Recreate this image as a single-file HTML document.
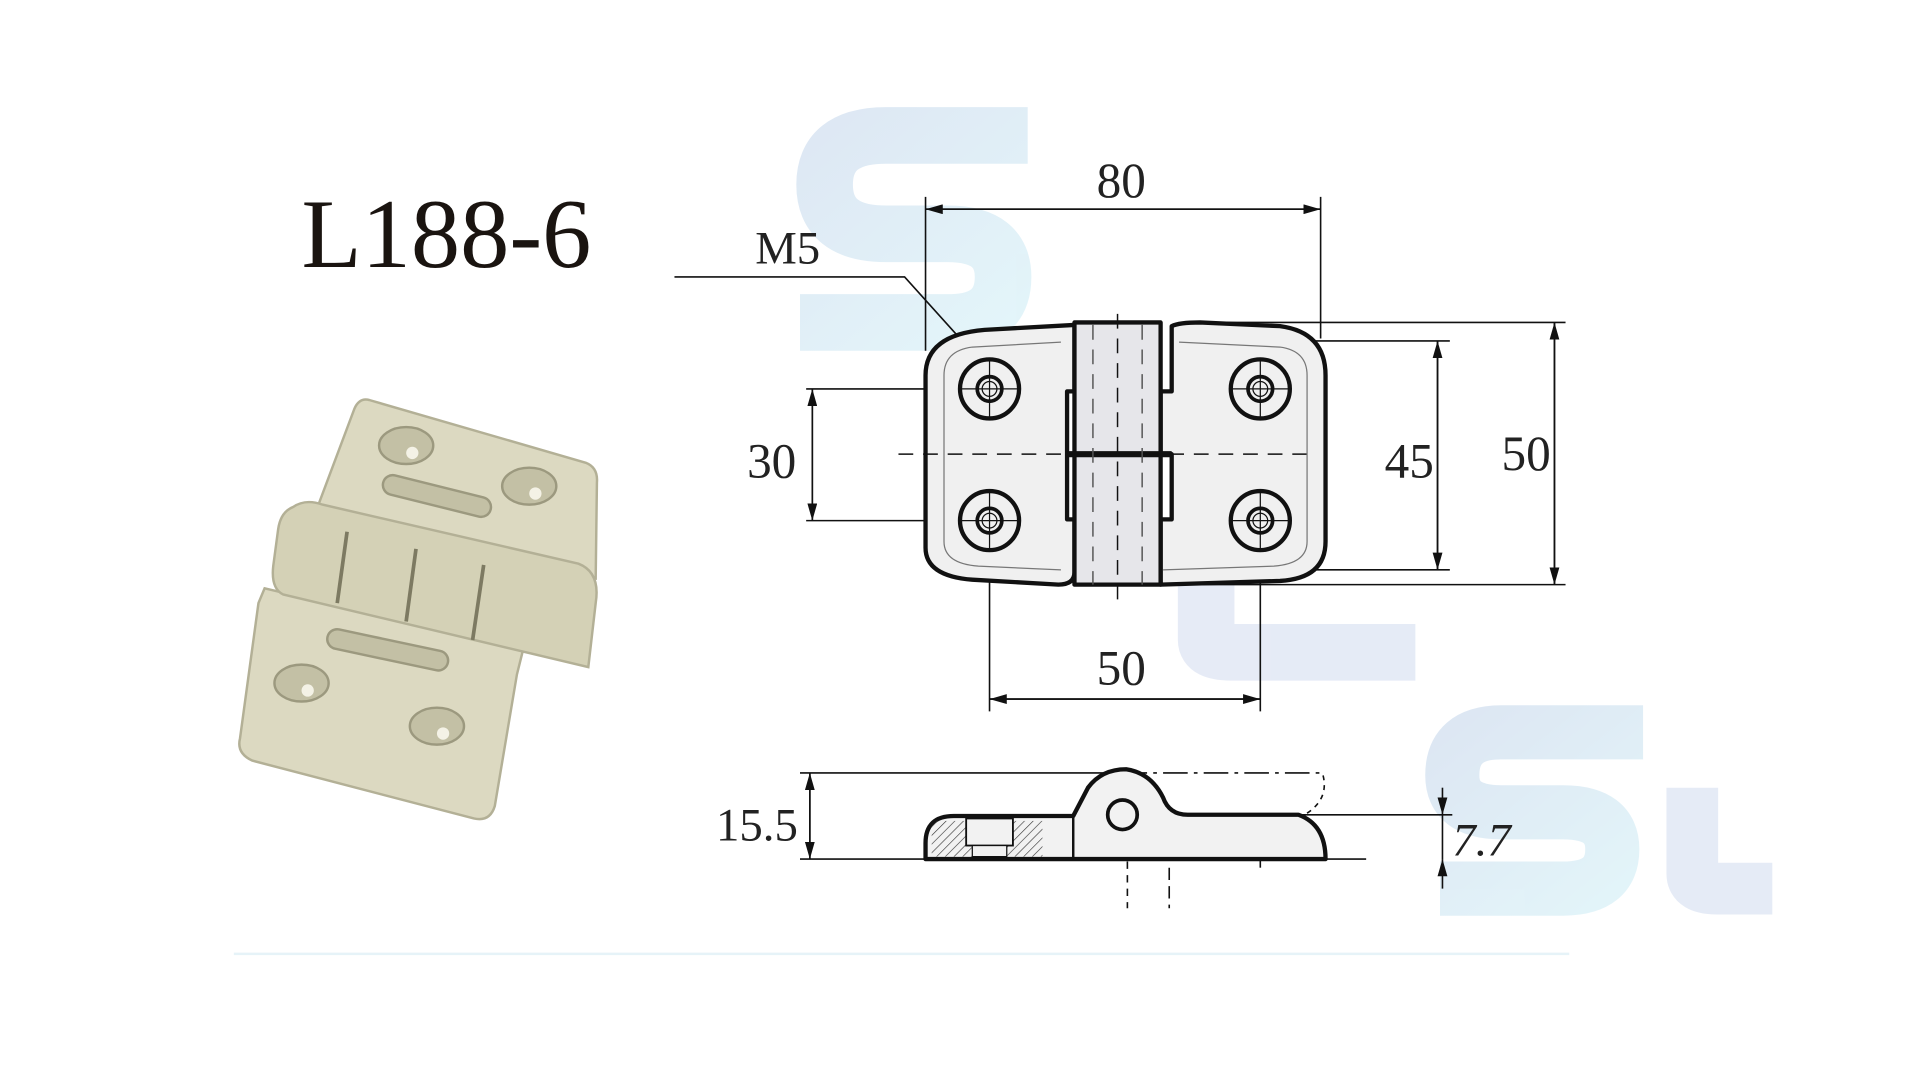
<!DOCTYPE html>
<html><head><meta charset="utf-8"><style>
html,body{margin:0;padding:0;background:#fff;}
svg{display:block}
</style></head><body>
<svg width="1920" height="1080" viewBox="0 0 1560 877.5" preserveAspectRatio="none" xmlns="http://www.w3.org/2000/svg" font-family="'Liberation Serif', serif">
<defs>
<marker id="a" markerWidth="14" markerHeight="8" refX="14" refY="4" orient="auto" markerUnits="userSpaceOnUse"><path d="M0,0 L14,4 L0,8 Z" fill="#111"/></marker>
<pattern id="h" width="5" height="5" patternUnits="userSpaceOnUse" patternTransform="rotate(45)"><line x1="0" y1="0" x2="0" y2="5" stroke="#333" stroke-width="1"/></pattern>
<linearGradient id="wm" x1="0" y1="0" x2="1" y2="1"><stop offset="0" stop-color="#bcd0e8"/><stop offset="1" stop-color="#c8ecf5"/></linearGradient>
</defs>
<g opacity="0.5" fill="none" stroke="url(#wm)" stroke-linecap="butt">
<path d="M835,110 L720,110 Q670,110 670,150 Q670,190 720,190 L770,190 Q815,190 815,225 Q815,262 770,262 L650,262" stroke-width="46"/>
<path d="M980,380 L980,520 Q980,530 1000,530 L1150,530" stroke-width="46" stroke="#cdd8ee"/>
<path d="M1335,595 L1220,595 Q1180,595 1180,630 Q1180,660 1220,660 L1270,660 Q1310,660 1310,690 Q1310,722 1270,722 L1170,722" stroke-width="44"/>
<path d="M1375,640 L1375,710 Q1375,722 1395,722 L1440,722" stroke-width="42" stroke="#cdd8ee"/>
</g>
<line x1="190" y1="775" x2="1275" y2="775" stroke="#e6f3f8" stroke-width="2"/>
<text x="245" y="217" font-size="80" fill="#1a1410" font-family="'Liberation Serif', serif">L188-6</text>
<!-- photo -->
<g stroke="#b3b096" stroke-width="2">
<path d="M300,325 L476,376 Q486,380 485,392 L484,470 L255,420 L288,332 Q292,323 300,325Z" fill="#dcd9c1"/>
<path d="M215,478 L425,528 Q422,540 420,548 L402,655 Q398,668 385,665 L205,618 Q192,612 195,600 L210,490Z" fill="#dcd9c1"/>
<path d="M238,412 Q248,405 262,410 L470,458 Q488,465 484,490 L478,542 L230,483 Q220,478 222,460 L226,430 Q228,416 238,412Z" fill="#d4d1b6"/>
</g>
<g stroke="#7d7a62" stroke-width="3" fill="none">
<line x1="282" y1="432" x2="274" y2="490"/><line x1="338" y1="446" x2="330" y2="505"/><line x1="393" y1="459" x2="384" y2="520"/>
</g>
<g fill="#c3c0a5" stroke="#9c997f" stroke-width="2">
<ellipse cx="330" cy="362" rx="22" ry="15"/><ellipse cx="430" cy="395" rx="22" ry="15"/>
<ellipse cx="245" cy="555" rx="22" ry="15"/><ellipse cx="355" cy="590" rx="22" ry="15"/>
<rect x="310" y="395" width="90" height="16" rx="8" transform="rotate(14 355 403)"/>
<rect x="265" y="520" width="100" height="16" rx="8" transform="rotate(12 315 528)"/>
</g>
<g fill="#f4f2e6"><circle cx="335" cy="368" r="5"/><circle cx="435" cy="401" r="5"/><circle cx="250" cy="561" r="5"/><circle cx="360" cy="596" r="5"/></g>

<g stroke="#111" fill="none" stroke-width="1.3">
<line x1="752" y1="160" x2="752" y2="285"/><line x1="1073" y1="160" x2="1073" y2="275"/>
<line x1="752" y1="170" x2="1073" y2="170" marker-end="url(#a)"/><line x1="1073" y1="170" x2="752" y2="170" marker-end="url(#a)"/>
<polyline points="548,225 735,225 780,275"/>
<line x1="655" y1="316" x2="804" y2="316"/><line x1="655" y1="423" x2="804" y2="423"/>
<line x1="660" y1="316" x2="660" y2="423" marker-end="url(#a)"/>
<line x1="660" y1="423" x2="660" y2="316" marker-end="url(#a)"/>
<line x1="1040" y1="277" x2="1178" y2="277"/><line x1="1040" y1="463" x2="1178" y2="463"/>
<line x1="1168" y1="277" x2="1168" y2="463" marker-end="url(#a)"/><line x1="1168" y1="463" x2="1168" y2="277" marker-end="url(#a)"/>
<line x1="960" y1="262" x2="1272" y2="262"/><line x1="878" y1="475" x2="1272" y2="475"/>
<line x1="1263" y1="262" x2="1263" y2="475" marker-end="url(#a)"/><line x1="1263" y1="475" x2="1263" y2="262" marker-end="url(#a)"/>
<line x1="804" y1="423" x2="804" y2="578"/><line x1="1024" y1="423" x2="1024" y2="578"/>
<line x1="804" y1="568" x2="1024" y2="568" marker-end="url(#a)"/><line x1="1024" y1="568" x2="804" y2="568" marker-end="url(#a)"/>
</g>
<g stroke="#111" fill="#f0f0f0" stroke-width="3.5" stroke-linejoin="round">
<path d="M873,264 L800,268 Q752,272 752,305 L752,445 Q752,468 790,471 L860,475 Q873,475 873,465 L873,422 L867,422 L867,318 L873,318 Z"/>
<path d="M952,265 Q958,262 975,262 L1040,265 Q1077,270 1077,305 L1077,440 Q1077,470 1040,472 L943,475 L943,422 L952,422 L952,369 L943,369 L943,318 L952,318 Z"/>
<rect x="873" y="262" width="70" height="213" fill="#e6e6ea"/>
<line x1="867" y1="369" x2="952" y2="369" stroke-width="5"/>
</g>
<g stroke="#111" fill="none" stroke-width="1.2">
<line x1="730" y1="369" x2="1065" y2="369" stroke-dasharray="12,8"/>
<line x1="908" y1="255" x2="908" y2="492" stroke-dasharray="12,8"/>
<line x1="888" y1="264" x2="888" y2="475" stroke-dasharray="12,8" stroke="#555"/>
<line x1="928" y1="264" x2="928" y2="475" stroke-dasharray="12,8" stroke="#555"/>
</g>
<g stroke="#111" fill="none">
<g stroke-width="3.5"><circle cx="804" cy="316" r="24"/><circle cx="1024" cy="316" r="24"/><circle cx="804" cy="423" r="24"/><circle cx="1024" cy="423" r="24"/></g>
<g stroke-width="3"><circle cx="804" cy="316" r="10"/><circle cx="1024" cy="316" r="10"/><circle cx="804" cy="423" r="10"/><circle cx="1024" cy="423" r="10"/></g>
<g stroke-width="1"><circle cx="804" cy="316" r="6"/><circle cx="1024" cy="316" r="6"/><circle cx="804" cy="423" r="6"/><circle cx="1024" cy="423" r="6"/>
<path d="M780,316h48M804,292v48M1000,316h48M1024,292v48M780,423h48M804,399v48M1000,423h48M1024,399v48"/>
<path d="M862,278 L790,282 Q767,285 767,305 L767,440 Q767,458 795,460 L862,463" stroke="#777"/>
<path d="M958,278 L1040,282 Q1062,285 1062,305 L1062,440 Q1062,458 1035,460 L945,463" stroke="#777"/></g>
</g>
<g stroke="#111" fill="none" stroke-width="1.3">
<line x1="650" y1="628" x2="912" y2="628"/>
<line x1="912" y1="628" x2="1075" y2="628" stroke-dasharray="20,5,3,5"/>
<path d="M1075,630 Q1080,650 1060,662" stroke-dasharray="4,4"/>
<line x1="650" y1="698" x2="1110" y2="698"/>
<line x1="658" y1="628" x2="658" y2="698" marker-end="url(#a)"/><line x1="658" y1="698" x2="658" y2="628" marker-end="url(#a)"/>
<line x1="925" y1="662" x2="1180" y2="662"/>
<line x1="1172" y1="640" x2="1172" y2="662" marker-end="url(#a)"/><line x1="1172" y1="722" x2="1172" y2="698" marker-end="url(#a)"/>
<line x1="1172" y1="662" x2="1172" y2="698"/>
<line x1="916" y1="700" x2="916" y2="738" stroke-dasharray="6,5"/><line x1="950" y1="705" x2="950" y2="738" stroke-dasharray="10,5"/>
<line x1="1024" y1="662" x2="1024" y2="705"/>
</g>
<g stroke="#111" stroke-width="3.5" fill="#f2f2f2" stroke-linejoin="round">
<path d="M752,698 L752,685 Q752,663 775,663 L872,663 L884,640 Q895,625 915,625 Q935,628 945,648 Q950,662 965,662 L1055,662 Q1077,670 1077,698 Z"/>
</g>
<rect x="757" y="667" width="90" height="29" fill="url(#h)"/>
<rect x="785" y="665" width="38" height="22" fill="#f2f2f2" stroke="#111" stroke-width="1.5"/>
<rect x="790" y="687" width="28" height="9" fill="#f2f2f2" stroke="#111" stroke-width="1"/>
<circle cx="912" cy="662" r="12" fill="#f2f2f2" stroke="#111" stroke-width="3"/>
<line x1="872" y1="663" x2="872" y2="698" stroke="#111" stroke-width="2"/>
<g font-size="40" fill="#222" font-family="'Liberation Serif', serif">
<text x="911" y="160" text-anchor="middle">80</text>
<text x="640" y="214" text-anchor="middle" font-size="38">M5</text>
<text x="627" y="388" text-anchor="middle">30</text>
<text x="1145" y="388" text-anchor="middle">45</text>
<text x="1240" y="382" text-anchor="middle">50</text>
<text x="911" y="556" text-anchor="middle">50</text>
<text x="615" y="683" text-anchor="middle" font-size="38">15.5</text>
<text x="1180" y="695" font-size="38" font-style="italic">7.7</text>
</g>
</svg>
</body></html>
